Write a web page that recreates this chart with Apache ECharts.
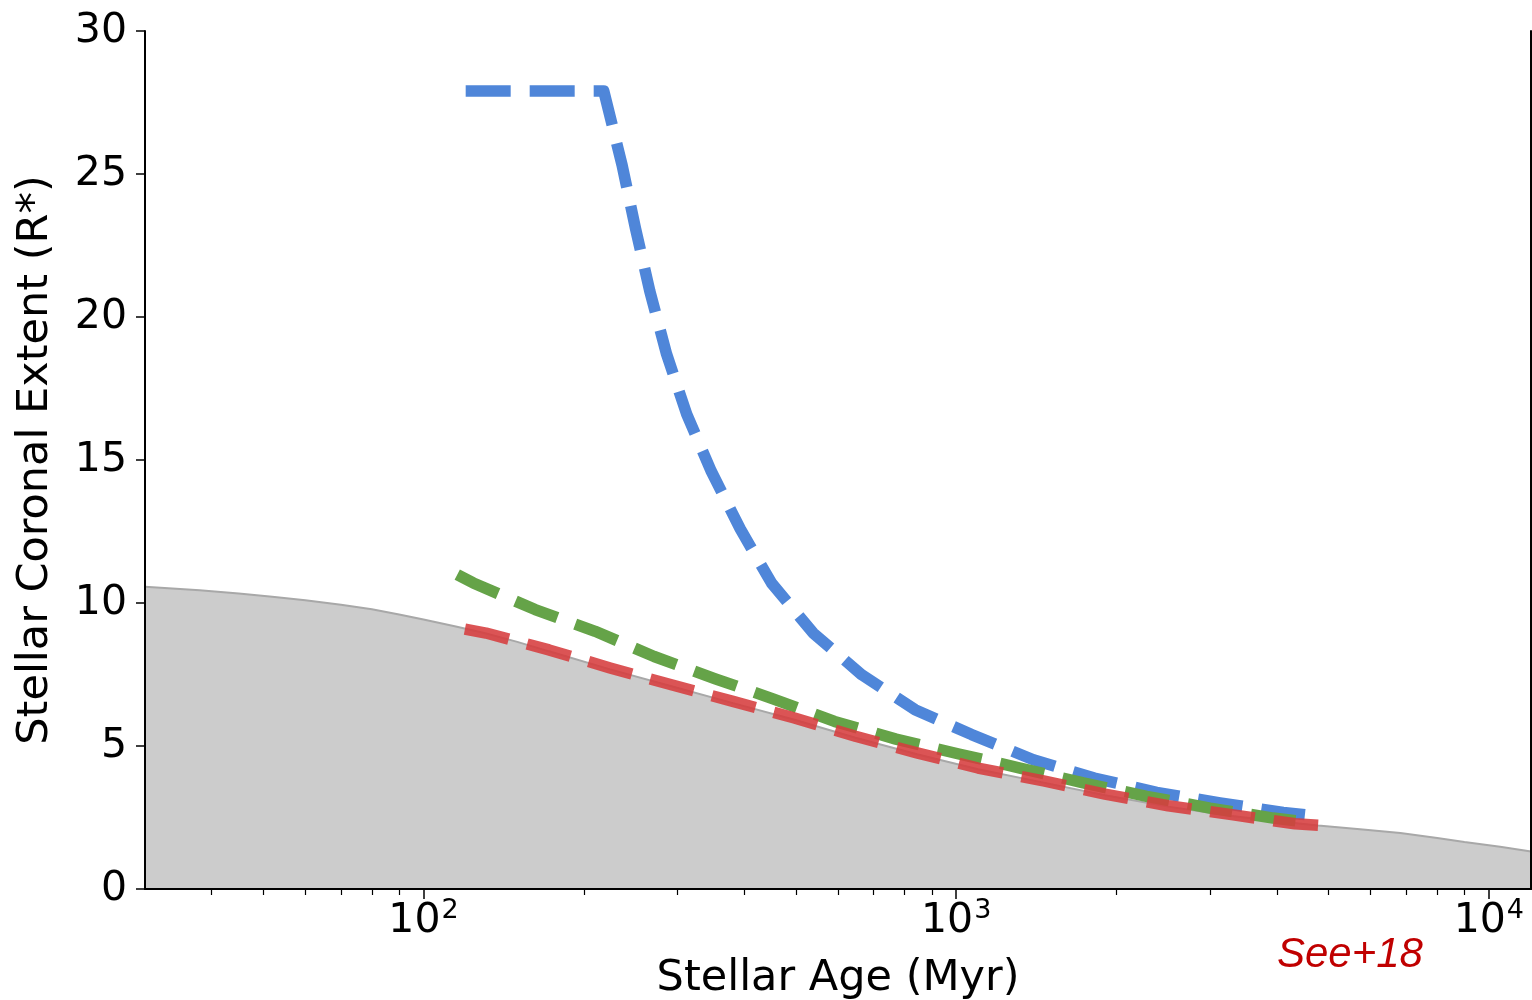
<!DOCTYPE html>
<html>
<head>
<meta charset="utf-8">
<script src="https://cdn.jsdelivr.net/npm/echarts@6/dist/echarts.min.js"></script>
<style>
  html, body { margin: 0; padding: 0; background: #fff; }
  #chart { width: 1532px; height: 1000px; }
</style>
</head>
<body>
<div id="chart"></div>
<script>
// stellar age (Myr) vs coronal extent (R*)
const grayAge = [30, 38, 45, 52, 60, 70, 80, 90, 100, 115, 130, 150, 172, 224, 292, 381, 497, 647, 844, 1099, 1459, 1903, 2500, 3289, 4000, 4780, 5800, 6823, 8000, 9000, 10500, 12000]
const grayR = [10.57, 10.45, 10.33, 10.22, 10.1, 9.94, 9.78, 9.6, 9.42, 9.18, 8.95, 8.64, 8.31, 7.68, 7.09, 6.5, 5.92, 5.29, 4.71, 4.19, 3.72, 3.28, 2.88, 2.55, 2.37, 2.22, 2.08, 1.96, 1.78, 1.64, 1.48, 1.31]

const blueAge = [120, 218, 236, 250, 266, 286, 312, 347, 393, 450, 539, 665, 837, 1069, 1396, 1817, 2379, 3128, 4112, 4516]
const blueR = [27.9, 27.9, 25.3, 23.1, 20.9, 18.7, 16.6, 14.6, 12.6, 10.7, 8.95, 7.49, 6.27, 5.4, 4.52, 3.88, 3.38, 3.01, 2.68, 2.6]

const greenAge = [115.7, 124, 162, 210, 271, 353, 453, 591, 771, 1012, 1318, 1732, 2278, 2995, 3937, 4700]
const greenR = [10.99, 10.7, 9.77, 9.01, 8.13, 7.35, 6.65, 5.86, 5.24, 4.72, 4.23, 3.71, 3.24, 2.83, 2.48, 2.31]

const redAge = [119.6, 131, 172, 224, 292, 381, 497, 647, 844, 1099, 1459, 1903, 2500, 3289, 4325, 4780]
const redR = [9.09, 8.95, 8.36, 7.73, 7.14, 6.56, 5.98, 5.34, 4.76, 4.23, 3.78, 3.32, 2.91, 2.6, 2.28, 2.23]

const majorTicks = [100, 1000, 10000]
const minorTicks = [40, 50, 60, 70, 80, 90, 200, 300, 400, 500, 600, 700, 800, 900,
  2000, 3000, 4000, 5000, 6000, 7000, 8000, 9000]
const xMin = 30
const xMax = 12000

function zip(xs, ys) {
  return xs.map((x, i) => [x, ys[i]])
}

const font = 'DejaVu Sans'
const chart = echarts.init(document.getElementById('chart'))

function dashed(name, age, r, color, z) {
  return {
    name: name,
    type: 'line',
    data: zip(age, r),
    showSymbol: false,
    symbol: 'none',
    z: z,
    lineStyle: { color: color, width: 11.5, type: [45, 19], cap: 'butt', join: 'round' },
    animation: false
  }
}

chart.setOption({
  animation: false,
  grid: { left: 145, right: 1, top: 31, bottom: 111, outerBoundsMode: 'none' },
  xAxis: [
    {
      type: 'log',
      logBase: 10,
      min: xMin,
      max: xMax,
      z: 10,
      axisLine: { show: true, onZero: false, lineStyle: { color: '#000', width: 2 } },
      axisTick: { show: true, length: 10, customValues: majorTicks, lineStyle: { color: '#000', width: 1.5 } },
      splitLine: { show: false },
      axisLabel: {
        customValues: majorTicks,
        margin: 8,
        color: '#000',
        fontFamily: font,
        fontSize: 41,
        formatter: v => '10{sup|' + Math.round(Math.log10(v)) + '}',
        rich: { sup: { fontSize: 27, fontFamily: font, color: '#000', verticalAlign: 'top', padding: [0, 0, 22, 1] } }
      },
      name: 'Stellar Age (Myr)',
      nameLocation: 'middle',
      nameGap: 68,
      nameTextStyle: { fontFamily: font, fontSize: 43, color: '#000' }
    },
    {
      type: 'log',
      logBase: 10,
      min: xMin,
      max: xMax,
      position: 'bottom',
      z: 10,
      axisLine: { show: false },
      axisTick: { show: true, length: 6, customValues: minorTicks, lineStyle: { color: '#000', width: 1.2 } },
      axisLabel: { show: false },
      splitLine: { show: false }
    },
    {
      type: 'log',
      logBase: 10,
      min: xMin,
      max: xMax,
      position: 'top',
      z: 10,
      axisLine: { show: true, lineStyle: { color: '#000', width: 2 } },
      axisTick: { show: false },
      axisLabel: { show: false },
      splitLine: { show: false }
    }
  ],
  yAxis: [
    {
      type: 'value',
      min: 0,
      max: 30,
      interval: 5,
      z: 10,
      axisLine: { show: true, onZero: false, lineStyle: { color: '#000', width: 2 } },
      axisTick: { show: true, length: 9, lineStyle: { color: '#000', width: 1.5 } },
      splitLine: { show: false },
      axisLabel: { margin: 18, color: '#000', fontFamily: font, fontSize: 41 },
      name: 'Stellar Coronal Extent (R*)',
      nameLocation: 'middle',
      nameGap: 88,
      nameRotate: 90,
      nameTextStyle: { fontFamily: font, fontSize: 43, color: '#000' }
    },
    {
      type: 'value',
      min: 0,
      max: 30,
      position: 'right',
      z: 10,
      axisLine: { show: true, lineStyle: { color: '#000', width: 2 } },
      axisTick: { show: false },
      axisLabel: { show: false },
      splitLine: { show: false }
    }
  ],
  series: [
    {
      name: 'surface',
      type: 'line',
      data: zip(grayAge, grayR),
      smooth: false,
      showSymbol: false,
      symbol: 'none',
      z: 1,
      lineStyle: { color: '#a8a8a8', width: 2 },
      areaStyle: { color: '#cccccc', opacity: 1, origin: 'start' },
      animation: false
    },
    dashed('blue', blueAge, blueR, '#4f86d9', 3),
    dashed('green', greenAge, greenR, '#65a348', 4),
    dashed('red', redAge, redR, 'rgba(214,60,62,0.88)', 5)
  ],
  graphic: [
    {
      type: 'text',
      left: 1277,
      top: 934,
      style: {
        text: 'See+18',
        font: 'italic 42px "Liberation Sans"',
        fill: '#c00000'
      }
    }
  ]
})
</script>
</body>
</html>
